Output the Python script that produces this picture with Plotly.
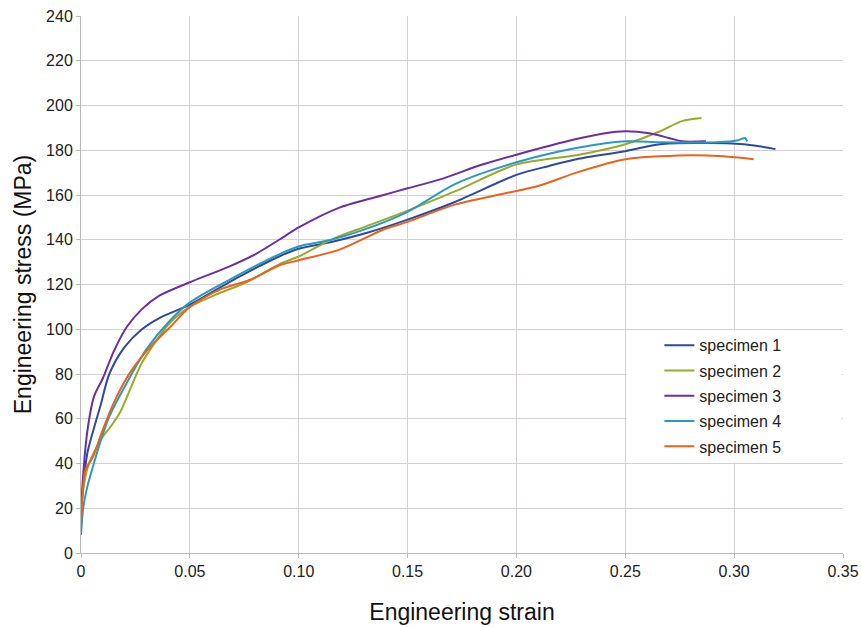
import plotly.graph_objects as go

# ---- data ----
names = ["specimen 1", "specimen 2", "specimen 3", "specimen 4", "specimen 5"]
colors = ["#2E4B9B", "#9AAA2A", "#6B2F9E", "#2A9AC2", "#E8631C"]

strain_1 = [0, 0.001, 0.003, 0.006, 0.009, 0.013, 0.02, 0.028, 0.036, 0.05, 0.068, 0.091, 0.1, 0.115,
            0.131, 0.15, 0.172, 0.2, 0.215, 0.2275, 0.25, 0.266, 0.283, 0.299, 0.31, 0.319]
stress_1 = [18, 30, 45, 56, 66, 80, 92, 100, 105, 111, 121, 132.5, 136, 139,
            143, 149, 157, 169, 173, 176, 179.6, 182.7, 183.2, 183, 182, 180.5]

strain_2 = [0, 0.001, 0.003, 0.006, 0.01, 0.014, 0.018, 0.0225, 0.028, 0.041, 0.05, 0.062, 0.076, 0.091,
            0.1, 0.116, 0.131, 0.15, 0.172, 0.2, 0.2275, 0.25, 0.266, 0.276, 0.285]
stress_2 = [18, 28, 38, 45, 52, 57, 63, 73, 85, 103, 110, 115.5, 121, 129,
            132.5, 140.5, 146, 153, 161.7, 173.7, 177.8, 182.7, 188.5, 193, 194.4]

strain_3 = [0, 0.001, 0.003, 0.006, 0.01, 0.015, 0.021, 0.028, 0.036, 0.05, 0.068, 0.08, 0.091, 0.1,
            0.119, 0.139, 0.15, 0.165, 0.184, 0.2, 0.2275, 0.24, 0.25, 0.261, 0.27, 0.276, 0.287]
stress_3 = [18, 35, 55, 70, 78, 90, 101, 109, 115, 121, 128, 133.5, 140, 145.5,
            154.5, 160, 163, 167, 173.5, 178, 185, 187.5, 188.5, 187.6, 185.5, 184, 184]

strain_4 = [0, 0.001, 0.003, 0.005, 0.009, 0.013, 0.021, 0.03, 0.041, 0.05, 0.068, 0.091, 0.1, 0.115,
            0.13, 0.15, 0.172, 0.2, 0.2275, 0.25, 0.266, 0.292, 0.302, 0.305, 0.306]
stress_4 = [8, 20, 30, 37, 50, 61, 76, 91, 104, 112, 122, 133.5, 137, 140,
            144.5, 152.5, 165, 174.6, 181, 184, 183.6, 183.6, 184.5, 185.5, 184]

strain_5 = [0, 0.001, 0.002, 0.0055, 0.0096, 0.015, 0.0225, 0.0317, 0.041, 0.05, 0.064, 0.0775, 0.091,
            0.1, 0.119, 0.139, 0.15, 0.172, 0.195, 0.21, 0.2275, 0.25, 0.266, 0.281, 0.295, 0.309]
stress_5 = [12, 30, 37, 43, 54, 67, 80.6, 92, 101, 110, 117.8, 122, 128.5,
            130.8, 135.7, 144.6, 148, 155.8, 160.8, 164, 170, 176, 177.3, 177.8, 177.3, 176]

strains = [strain_1, strain_2, strain_3, strain_4, strain_5]
stresses = [stress_1, stress_2, stress_3, stress_4, stress_5]

x_tickvals = [0, 0.05, 0.10, 0.15, 0.20, 0.25, 0.30, 0.35]
x_ticktext = ["0", "0.05", "0.10", "0.15", "0.20", "0.25", "0.30", "0.35"]
y_tickvals = list(range(0, 241, 20))

FONT = "Arial, Liberation Sans, Helvetica, sans-serif"

fig = go.Figure()
for n, c, xs, ys in zip(names, colors, strains, stresses):
    fig.add_trace(go.Scatter(x=xs, y=ys, mode="lines", name=n, legendgroup=n,
                             line=dict(color=c, width=2, shape="spline", smoothing=0.8)))

# white box behind legend (hides grid lines)
fig.add_shape(type="rect", xref="x", yref="y", x0=0.2506, x1=0.3494, y0=40.6, y1=99.4,
              fillcolor="white", line=dict(width=0), layer="above")

fig.update_layout(
    width=861, height=627,
    margin=dict(l=81, r=18, t=16, b=74, autoexpand=False),
    paper_bgcolor="white", plot_bgcolor="white",
    font=dict(family=FONT, color="#222222", size=16),
    legend=dict(x=0.759, y=0.4185, xanchor="left", yanchor="top",
                bgcolor="rgba(255,255,255,0)", font=dict(size=16, color="#222222"),
                itemwidth=30, traceorder="grouped", tracegroupgap=1.5),
    showlegend=True,
)
fig.update_xaxes(range=[0, 0.35], tickvals=x_tickvals, ticktext=x_ticktext,
                 showgrid=True, gridcolor="#D4D0D4", gridwidth=1,
                 showline=True, linecolor="#BBBBBB", linewidth=1,
                 ticks="outside", ticklen=4, tickcolor="#BBBBBB", automargin=False,
                 zeroline=False, tickfont=dict(size=16),
                 title=dict(text="Engineering strain", font=dict(size=23, color="#111111"), standoff=24))
fig.update_yaxes(range=[0, 240], tickvals=y_tickvals,
                 showgrid=True, gridcolor="#D4D0D4", gridwidth=1,
                 showline=True, linecolor="#BBBBBB", linewidth=1,
                 ticks="outside", ticklen=4, tickcolor="#BBBBBB", automargin=False,
                 zeroline=False, tickfont=dict(size=16),
                 title=dict(text="Engineering stress (MPa)", font=dict(size=23, color="#111111"), standoff=8))

fig.write_html("out.html")
